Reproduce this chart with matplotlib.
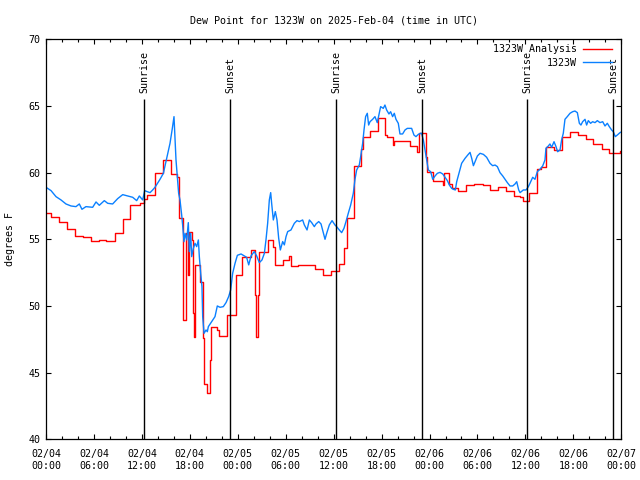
import numpy as np
import matplotlib
matplotlib.use("Agg")
import matplotlib.pyplot as plt
import matplotlib.dates as mdates

# hours since 2025-02-04 00:00 UTC
blue_hours = [0, 0.63, 1.25, 1.88, 2.50, 3.13, 3.75, 4.17, 4.50, 5.00, 5.84, 6.26, 6.67, 7.30, 7.72,
              8.34, 8.97, 9.60, 10.20, 10.85, 11.35, 11.68, 12.10, 12.35, 12.68, 13.02, 13.35, 13.64,
              14.27, 14.69, 15.10, 15.52, 15.81, 16.02, 16.10, 16.27, 16.44, 16.60, 16.77, 16.98, 17.10,
              17.27, 17.40, 17.61, 17.81, 17.94, 18.11, 18.23, 18.44, 18.65, 18.86, 19.07, 19.19, 19.36,
              19.52, 19.61, 19.78, 20.03, 20.19, 20.32, 20.73, 21.15, 21.44, 21.78, 22.19, 22.53, 22.86,
              23.11, 23.36, 23.66, 23.95, 24.41, 24.82, 25.11, 25.37, 25.66, 26.07, 26.37, 26.70, 27.03,
              27.33, 27.53, 27.74, 27.95, 28.12, 28.24, 28.45, 28.70, 28.91, 29.12, 29.33, 29.62, 29.83,
              30.04, 30.25, 30.66, 31.08, 31.41, 31.71, 32.12, 32.33, 32.67, 32.96, 33.25, 33.58, 33.79,
              34.13, 34.42, 34.71, 34.92, 35.13, 35.46, 35.80, 36.17, 36.37, 36.71, 37.00, 37.29, 37.54,
              37.83, 38.13, 38.46, 38.67, 38.88, 39.21, 39.38, 39.63, 39.80, 40.00, 40.21, 40.38, 40.55,
              40.88, 41.17, 41.46, 41.71, 41.88, 42.21, 42.42, 42.63, 42.92, 43.13, 43.38, 43.59, 43.80,
              44.09, 44.30, 44.63, 44.93, 45.22, 45.76, 46.05, 46.30, 46.60, 46.89, 47.00, 47.23, 47.44,
              47.64, 47.85, 48.14, 48.40, 48.69, 48.98, 49.31, 49.65, 49.94, 50.23, 50.48, 50.77, 50.98,
              51.23, 51.40, 51.73, 52.02, 52.44, 52.78, 53.07, 53.28, 53.49, 53.69, 53.99, 54.32, 54.74,
              55.15, 55.57, 55.90, 56.20, 56.49, 56.82, 57.16, 57.45, 57.74, 58.07, 58.41, 58.70, 58.91,
              59.16, 59.33, 59.74, 60.08, 60.37, 60.57, 60.91, 61.20, 61.49, 61.82, 62.16, 62.45, 62.57,
              62.87, 63.07, 63.28, 63.58, 63.83, 64.03, 64.33, 64.53, 64.74, 64.95, 65.24, 65.58, 65.91,
              66.20, 66.50, 66.75, 66.95, 67.16, 67.46, 67.66, 67.87, 68.16, 68.41, 68.71, 69.00, 69.33,
              69.67, 69.96, 70.25, 70.50, 70.79, 71.00, 71.25, 71.50, 71.84, 72.05]
blue_dew = [58.90, 58.65, 58.20, 57.95, 57.65, 57.50, 57.45, 57.65, 57.25, 57.45, 57.40, 57.80, 57.55,
            57.90, 57.70, 57.65, 58.05, 58.35, 58.25, 58.15, 57.90, 58.25, 57.95, 58.65, 58.57, 58.50,
            58.70, 58.90, 59.50, 59.95, 61.07, 62.20, 63.32, 64.20, 63.20, 60.95, 59.70, 58.45, 57.95,
            56.82, 56.07, 54.82, 55.45, 54.95, 56.25, 54.07, 55.45, 53.70, 54.32, 54.70, 54.45, 54.95,
            53.70, 52.45, 51.45, 49.20, 47.95, 48.20, 48.07, 48.45, 48.82, 49.20, 50.00, 49.90, 49.95,
            50.25, 50.70, 51.20, 52.45, 53.20, 53.80, 53.90, 53.75, 53.65, 53.08, 53.75, 54.08, 53.75,
            53.25, 53.45, 53.95, 54.95, 56.20, 57.95, 58.50, 57.70, 56.45, 57.08, 56.45, 55.08, 54.20,
            54.83, 54.58, 55.20, 55.58, 55.70, 56.20, 56.40, 56.33, 56.45, 56.08, 55.70, 56.45, 56.25,
            55.95, 56.15, 56.33, 56.15, 55.50, 55.00, 55.45, 56.08, 56.40, 56.07, 55.95, 55.70, 55.50,
            55.82, 56.32, 56.95, 57.57, 58.45, 59.50, 60.20, 60.57, 61.20, 62.20, 63.20, 64.20, 64.45,
            63.57, 63.82, 64.00, 64.20, 63.75, 64.45, 64.95, 64.82, 65.07, 64.70, 64.40, 64.57, 64.20,
            64.45, 64.00, 63.70, 62.90, 62.90, 63.20, 63.32, 63.32, 62.82, 62.70, 62.87, 62.95, 62.95,
            62.45, 61.70, 60.95, 60.20, 60.07, 59.50, 59.75, 59.95, 60.02, 59.90, 59.65, 59.40, 59.07,
            58.82, 58.75, 58.70, 59.32, 60.07, 60.70, 61.07, 61.32, 61.52, 61.07, 60.52, 60.82, 61.25,
            61.45, 61.37, 61.15, 60.70, 60.52, 60.57, 60.45, 60.00, 59.75, 59.50, 59.25, 59.00, 59.00,
            59.15, 59.32, 58.70, 58.50, 58.70, 58.70, 58.95, 59.20, 59.65, 59.50, 60.07, 60.25, 60.50,
            60.95, 61.82, 62.00, 62.15, 61.90, 62.32, 61.95, 61.57, 61.70, 62.45, 62.95, 64.00, 64.20,
            64.45, 64.57, 64.62, 64.50, 63.70, 63.57, 63.82, 64.00, 63.57, 63.90, 63.70, 63.82, 63.75,
            63.90, 63.75, 63.82, 63.50, 63.70, 63.45, 63.20, 63.07, 62.70, 62.82, 63.00, 63.07]

# analysis is a step series: value holds from each time to the next
red_hours = [0.00, 0.63, 1.58, 2.59, 3.63, 4.59, 5.63, 6.59, 7.51, 8.59, 9.60, 10.55, 11.80, 12.27,
             12.68, 13.64, 14.60, 15.60, 16.35, 16.69, 17.19, 17.52, 17.73, 17.94, 18.23, 18.44, 18.52,
             18.65, 19.27, 19.69, 19.82, 20.11, 20.53, 20.61, 21.36, 21.61, 22.61, 23.78, 24.53, 25.66,
             26.16, 26.28, 26.58, 26.70, 27.74, 28.37, 28.66, 29.62, 30.46, 30.66, 31.50, 33.67, 34.71,
             35.67, 36.71, 37.34, 37.71, 38.54, 39.38, 39.71, 40.55, 41.51, 42.42, 42.72, 43.38, 43.55,
             45.55, 46.47, 46.72, 46.89, 47.55, 47.73, 48.48, 49.65, 49.81, 50.48, 50.77, 51.61, 52.57,
             53.57, 54.74, 55.57, 56.53, 57.57, 58.57, 59.33, 59.74, 60.49, 61.49, 61.91, 62.57, 63.58,
             64.53, 65.58, 66.62, 67.58, 68.50, 69.54, 70.50, 71.84, 72.05]
red_dew = [57.00, 56.70, 56.27, 55.77, 55.25, 55.15, 54.87, 54.95, 54.85, 55.45, 56.52, 57.55, 57.75,
           58.00, 58.30, 59.95, 60.92, 59.90, 59.65, 56.57, 48.95, 55.50, 52.32, 55.57, 54.95, 49.45,
           47.65, 53.07, 51.82, 47.57, 44.15, 43.45, 45.95, 48.40, 48.20, 47.77, 49.32, 52.32, 53.65,
           54.20, 50.83, 47.65, 50.83, 54.03, 54.95, 54.45, 53.08, 53.45, 53.75, 53.00, 53.05, 52.75,
           52.33, 52.62, 53.13, 54.33, 56.57, 60.50, 61.75, 62.65, 63.12, 64.07, 62.82, 62.70, 62.07,
           62.40, 62.00, 61.57, 62.95, 63.00, 61.20, 60.07, 59.37, 59.07, 59.95, 59.15, 58.82, 58.62,
           59.05, 59.15, 59.05, 58.67, 58.95, 58.65, 58.25, 58.20, 57.90, 58.45, 60.25, 60.45, 61.95,
           61.70, 62.65, 63.07, 62.82, 62.50, 62.15, 61.75, 61.50, 61.65, 61.65]

sun_times = ["2025-02-04T12:18", "2025-02-04T23:04", "2025-02-05T12:20",
             "2025-02-05T23:06", "2025-02-06T12:15", "2025-02-06T23:01"]
sun_labels = ["Sunrise", "Sunset", "Sunrise", "Sunset", "Sunrise", "Sunset"]

base = np.datetime64("2025-02-04T00:00")


def to_time(hours):
    secs = np.round(np.array(hours) * 3600).astype("int64")
    return base + secs.astype("timedelta64[s]")


FONT = "DejaVu Sans Mono"
FS = 7.2
plt.rcParams["font.family"] = FONT
plt.rcParams["font.size"] = FS

fig = plt.figure(figsize=(6.4, 4.8), dpi=100)
ax = fig.add_axes([46 / 640, 1 - 439.3 / 480, 575.3 / 640, 400 / 480])

ax.plot(to_time(red_hours), red_dew, color="#ff0000", lw=1.0,
        drawstyle="steps-post", label="1323W Analysis")
ax.plot(to_time(blue_hours), blue_dew, color="#0a80ff", lw=1.0, label="1323W")

suns = np.array(sun_times, dtype="datetime64[m]")
ax.vlines(suns, 40, 65.5, color="black", lw=1.0)
for t, lab in zip(suns, sun_labels):
    ax.text(t, 66.0, lab, rotation=90, ha="center", va="bottom", fontsize=FS)

ax.set_xlim(base, base + np.timedelta64(72, "h"))
ax.set_ylim(40, 70)
ax.set_yticks(np.arange(40, 71, 5))
ax.xaxis.set_major_locator(mdates.HourLocator(byhour=[0, 6, 12, 18]))
ax.xaxis.set_minor_locator(mdates.HourLocator(byhour=range(0, 24, 2)))
ax.xaxis.set_major_formatter(mdates.DateFormatter("%m/%d\n%H:%M"))

ax.tick_params(which="both", direction="in", top=True, right=True, labelsize=FS, width=0.8)
ax.tick_params(which="major", length=3.8)
ax.tick_params(which="minor", length=2.0)
ax.tick_params(axis="x", pad=7)
ax.tick_params(axis="y", pad=4)
for s in ax.spines.values():
    s.set_linewidth(0.9)

ax.text(0.5, 1 + 19 / 400, "Dew Point for 1323W on 2025-Feb-04 (time in UTC)",
        transform=ax.transAxes, ha="center", va="center", fontsize=FS)
ax.text(-36 / 575.3, 0.5, "degrees F", transform=ax.transAxes, rotation=90,
        ha="center", va="center", fontsize=FS)

ax.legend(loc="upper right", bbox_to_anchor=(0.984, 0.988), frameon=False,
          markerfirst=False, handlelength=2.9, handletextpad=0.6, labelspacing=0.35,
          borderpad=0, borderaxespad=0, fontsize=FS)

fig.savefig("out.png", dpi=100)
